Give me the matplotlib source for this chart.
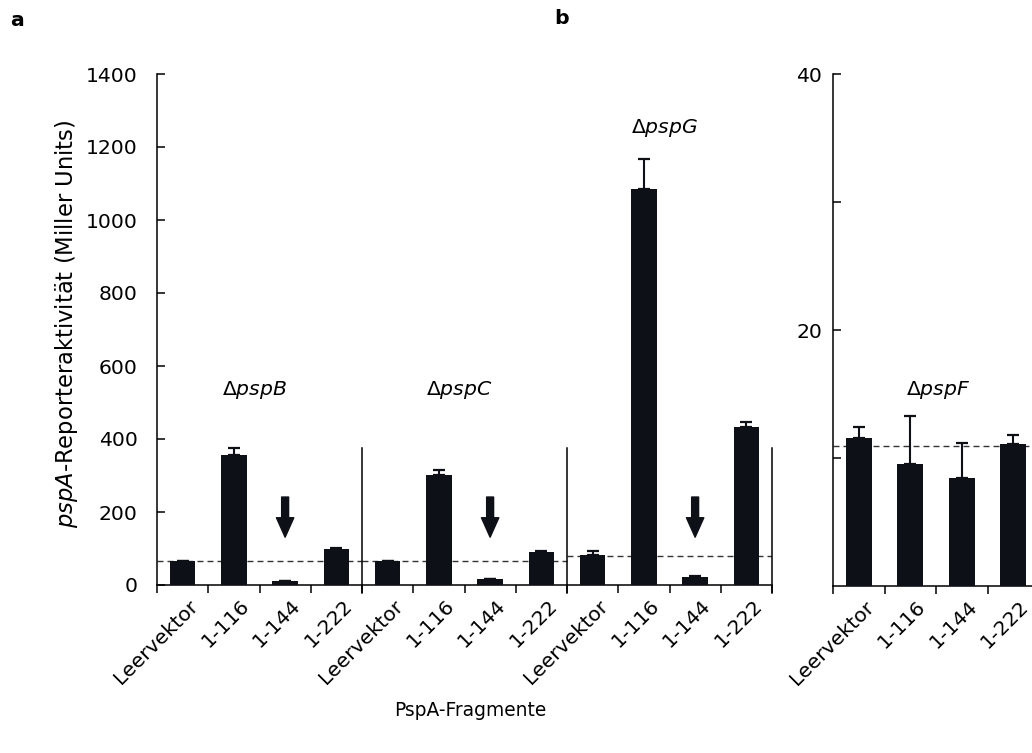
import matplotlib
matplotlib.use("Agg")
import matplotlib.pyplot as plt
import numpy as np
from matplotlib.transforms import ScaledTranslation

plt.rcParams['font.family'] = ['DejaVu Sans']
plt.rcParams['mathtext.fontset'] = 'dejavusans'

# ---------------- data ----------------
categories = ['Leervektor', '1-116', '1-144', '1-222']
strains_left = ['pspB', 'pspC', 'pspG']
vals_B = [66, 356, 11, 99]
err_B = [0, 19, 0, 2]
vals_C = [66, 301, 16, 90]
err_C = [0, 14, 0, 2]
vals_G = [82, 1085, 22, 433]
err_G = [11, 82, 2, 14]
baseline_left = [66, 66, 80]
label_y_left = [534, 534, 1252]

strain_right = 'pspF'
vals_F = [11.6, 9.5, 8.45, 11.1]
err_F = [0.8, 3.8, 2.75, 0.7]
baseline_right = 10.9

left_yticks = [0, 200, 400, 600, 800, 1000, 1200, 1400]
right_major = [20, 40]
right_minor = [10, 30]

BAR = '#0d1016'
FS = 14.7

fig = plt.figure(figsize=(10.32, 7.53), dpi=100)
W, H = 1032, 753

def rect(x0, x1, y0, y1):
    return [x0 / W, (H - y0) / H, (x1 - x0) / W, (y0 - y1) / H]

axL = fig.add_axes(rect(157, 772, 585, 74))
axR = fig.add_axes(rect(833, 1039, 586, 74))

def style(ax):
    for s in ['top', 'right']:
        ax.spines[s].set_visible(False)
    for s in ['left', 'bottom']:
        ax.spines[s].set_linewidth(1.1)
    ax.tick_params(axis='y', direction='in', length=6, width=1.1, labelsize=FS)
    ax.tick_params(axis='x', which='major', length=0, labelsize=FS, pad=8)
    ax.tick_params(axis='x', which='minor', direction='out', length=6, width=1.1)

# ---------------- left panel ----------------
groups = [(vals_B, err_B), (vals_C, err_C), (vals_G, err_G)]
all_vals, all_err = [], []
for v, e in groups:
    all_vals += v
    all_err += e
x = np.arange(len(all_vals))
axL.bar(x, all_vals, width=0.5, color=BAR, zorder=3)
axL.errorbar(x, all_vals, yerr=[np.zeros(len(all_err)), all_err], fmt='none',
             ecolor=BAR, elinewidth=1.5, capsize=4.5, capthick=1.6, zorder=3)
axL.set_xlim(-0.5, 11.5)
axL.set_ylim(0, 1400)
axL.set_yticks(left_yticks)
style(axL)
axL.tick_params(axis='y', pad=14)
axL.set_xticks(x)
axL.set_xticklabels(categories * 3, rotation=45, ha='right', rotation_mode='anchor')
axL.set_xticks(np.arange(-0.5, 12, 1.0), minor=True)
off = ScaledTranslation(6 / 100, 0, fig.dpi_scale_trans)
for lab in axL.get_xticklabels():
    lab.set_transform(lab.get_transform() + off)

for g in range(3):
    x0 = g * 4 - 0.5
    axL.plot([x0, x0 + 4], [baseline_left[g]] * 2, ls=(0, (4.3, 2.9)), lw=1.0,
             color='#333333', zorder=2)
    axL.plot([x0 + 4, x0 + 4], [-22, 375], color='black', lw=1.1, clip_on=False, zorder=4)
    axL.annotate('', xy=(g * 4 + 2, 131), xytext=(g * 4 + 2, 241),
                 arrowprops=dict(arrowstyle='simple,head_length=14,head_width=12.5,tail_width=5',
                                 mutation_scale=1, color=BAR, shrinkA=0, shrinkB=0), zorder=5)
    axL.text(g * 4 + 1.4, label_y_left[g], '\u0394$\\it{' + strains_left[g] + '}$',
             ha='center', va='center', fontsize=FS)

# ---------------- right panel ----------------
xr = np.arange(len(vals_F))
axR.bar(xr, vals_F, width=0.5, color=BAR, zorder=3)
axR.errorbar(xr, vals_F, yerr=[np.zeros(len(err_F)), err_F], fmt='none',
             ecolor=BAR, elinewidth=1.5, capsize=4.5, capthick=1.6, zorder=3)
axR.set_xlim(-0.5, 3.5)
axR.set_ylim(0, 40)
axR.set_yticks(right_major)
axR.set_yticks(right_minor, minor=True)
style(axR)
axR.tick_params(axis='y', which='minor', direction='in', length=6, width=1.1)
axR.tick_params(axis='y', pad=8)
axR.set_xticks(xr)
axR.set_xticklabels(categories, rotation=45, ha='right', rotation_mode='anchor')
axR.set_xticks(np.arange(-0.5, 3.0, 1.0), minor=True)
for lab in axR.get_xticklabels():
    lab.set_transform(lab.get_transform() + off)
axR.plot([-0.5, 3.5], [baseline_right] * 2, ls=(0, (4.3, 2.9)), lw=1.0,
         color='#333333', zorder=2, clip_on=False)
axR.text(1.55, 15.3, '\u0394$\\it{' + strain_right + '}$', ha='center', va='center', fontsize=FS)

# ---------------- labels ----------------
fig.text(67 / W, 1 - 324 / H, '$\\it{pspA}$-Reporteraktivität (Miller Units)',
         rotation=90, ha='center', va='center', fontsize=16.3)
fig.text(470 / W, 1 - 711 / H, 'PspA-Fragmente', ha='center', va='center', fontsize=13.4)
fig.text(17 / W, 1 - 20 / H, 'a', ha='center', va='center', fontsize=FS, fontweight='bold')
fig.text(562 / W, 1 - 19 / H, 'b', ha='center', va='center', fontsize=FS, fontweight='bold')

fig.savefig('out.png', dpi=100)
